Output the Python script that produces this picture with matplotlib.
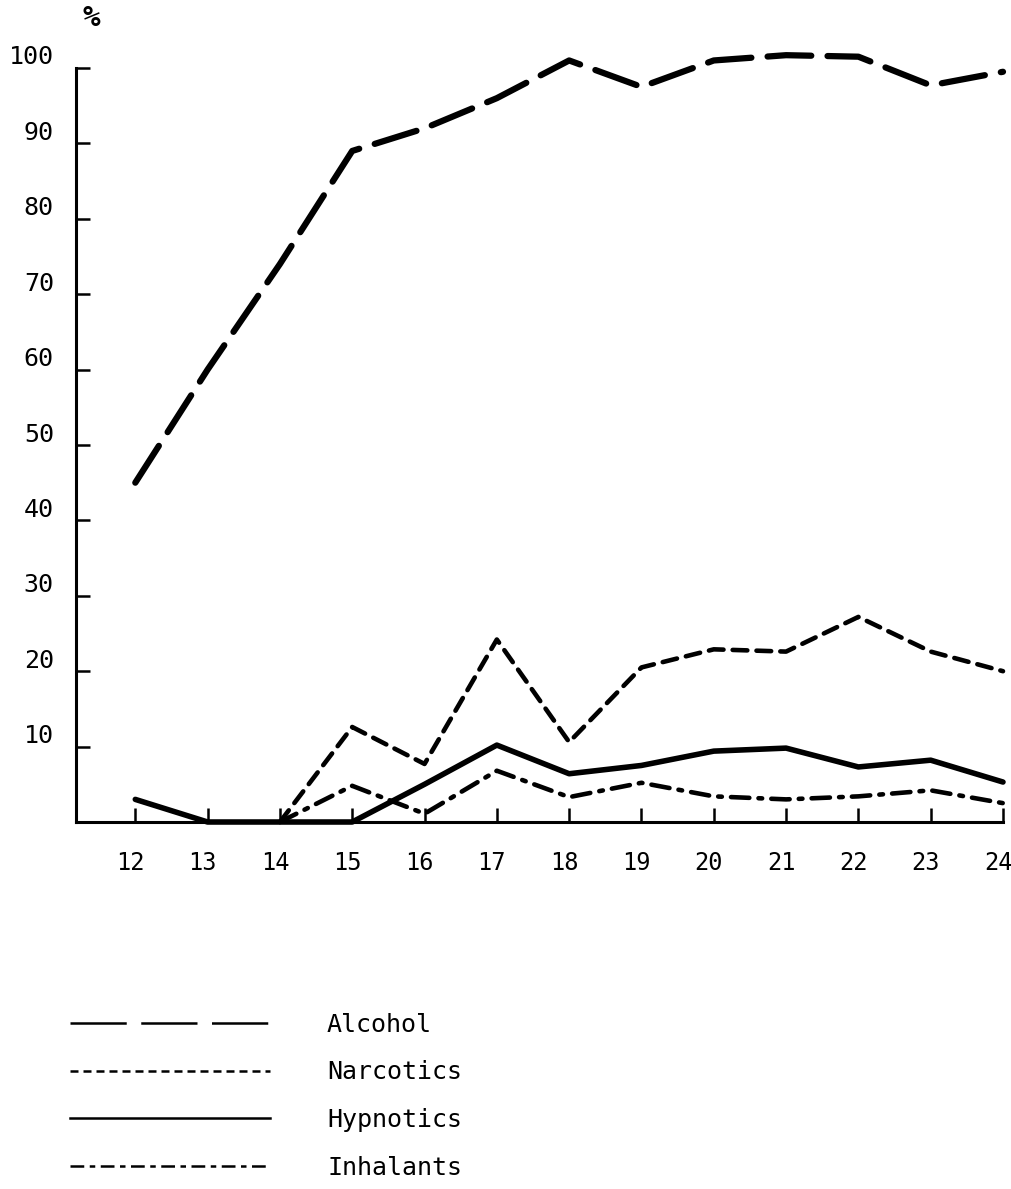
import matplotlib
matplotlib.use("Agg")
import matplotlib.pyplot as plt
import matplotlib.transforms as mtransforms
from matplotlib.lines import Line2D

ages = [12, 13, 14, 15, 16, 17, 18, 19, 20, 21, 22, 23, 24]
alcohol = [45, 60, 74, 89, 92, 96, 101, 97.5, 101, 101.7, 101.5, 97.7, 99.5]
narc_ages = [14, 15, 16, 17, 18, 19, 20, 21, 22, 23, 24]
narcotics = [0, 12.6, 7.7, 24.2, 10.6, 20.5, 22.9, 22.6, 27.2, 22.6, 20]
hypnotics = [3, 0, 0, 0, 5, 10.2, 6.4, 7.5, 9.4, 9.8, 7.3, 8.2, 5.3]
inh_ages = [14, 15, 16, 17, 18, 19, 20, 21, 22, 23, 24]
inhalants = [0, 4.8, 1.1, 6.8, 3.3, 5.2, 3.4, 3.0, 3.4, 4.2, 2.5]
yticks = [10, 20, 30, 40, 50, 60, 70, 80, 90, 100]
labels = ["Alcohol", "Narcotics", "Hypnotics", "Inhalants"]

FONT = "DejaVu Sans Mono"
plt.rcParams['font.family'] = [FONT]

fig = plt.figure(figsize=(10.12, 11.89), dpi=100)
ax = fig.add_axes([76/1012, 1-822/1189, 927/1012, (822-68)/1189])
ax.set_xlim(11.18, 24.0)
ax.set_ylim(0, 100)

ax.plot(ages, alcohol, color="black", lw=4.5, ls=(0, (7, 2.6)),
        dash_capstyle="round", clip_on=False)
ax.plot(narc_ages, narcotics, color="black", lw=3.3, ls=(0, (3.2, 2.0)),
        dash_capstyle="round", clip_on=False)
ax.plot(ages, hypnotics, color="black", lw=4.0, solid_capstyle="round",
        clip_on=False)
ax.plot(inh_ages, inhalants, color="black", lw=3.3,
        ls=(0, (4, 2, 0.8, 2)), dash_capstyle="round", clip_on=False)

for s in ["top", "right"]:
    ax.spines[s].set_visible(False)
for s in ["left", "bottom"]:
    ax.spines[s].set_linewidth(2.2)
ax.spines["left"].set_bounds(0, 100)

ax.set_xticks(ages)
ax.set_xticklabels([str(a) for a in ages])
ax.set_yticks(yticks)
ax.set_yticklabels([str(v) for v in yticks])
ax.tick_params(axis="both", direction="in", length=10, width=1.8)
ax.tick_params(axis="y", pad=16, labelsize=18)
ax.tick_params(axis="x", pad=21, labelsize=17)

# small offsets like the original typed labels
ydx = mtransforms.ScaledTranslation(0, 13/100, fig.dpi_scale_trans)
for lab in ax.get_yticklabels():
    lab.set_transform(lab.get_transform() + ydx)
xdx = mtransforms.ScaledTranslation(-5/100, 0, fig.dpi_scale_trans)
for lab in ax.get_xticklabels():
    lab.set_transform(lab.get_transform() + xdx)

fig.text(91/1012, 1-18/1189, "%", ha="center", va="center", fontsize=21,
         fontweight="bold")

handles = [
    Line2D([], [], color="black", lw=1.8, ls=(0, (22.5, 5.8))),
    Line2D([], [], color="black", lw=1.8, ls=(0, (3.2, 2.0))),
    Line2D([], [], color="black", lw=1.8),
    Line2D([], [], color="black", lw=1.8, ls=(0, (5.5, 2.2, 2.2, 2.2))),
]
leg = fig.legend(handles, labels, loc="upper left",
                 bbox_to_anchor=(47/1012, 1-990/1189), frameon=False,
                 fontsize=18, handlelength=8.0, handletextpad=2.3,
                 labelspacing=0.95)

fig.savefig("out.png", dpi=100, facecolor="white")
